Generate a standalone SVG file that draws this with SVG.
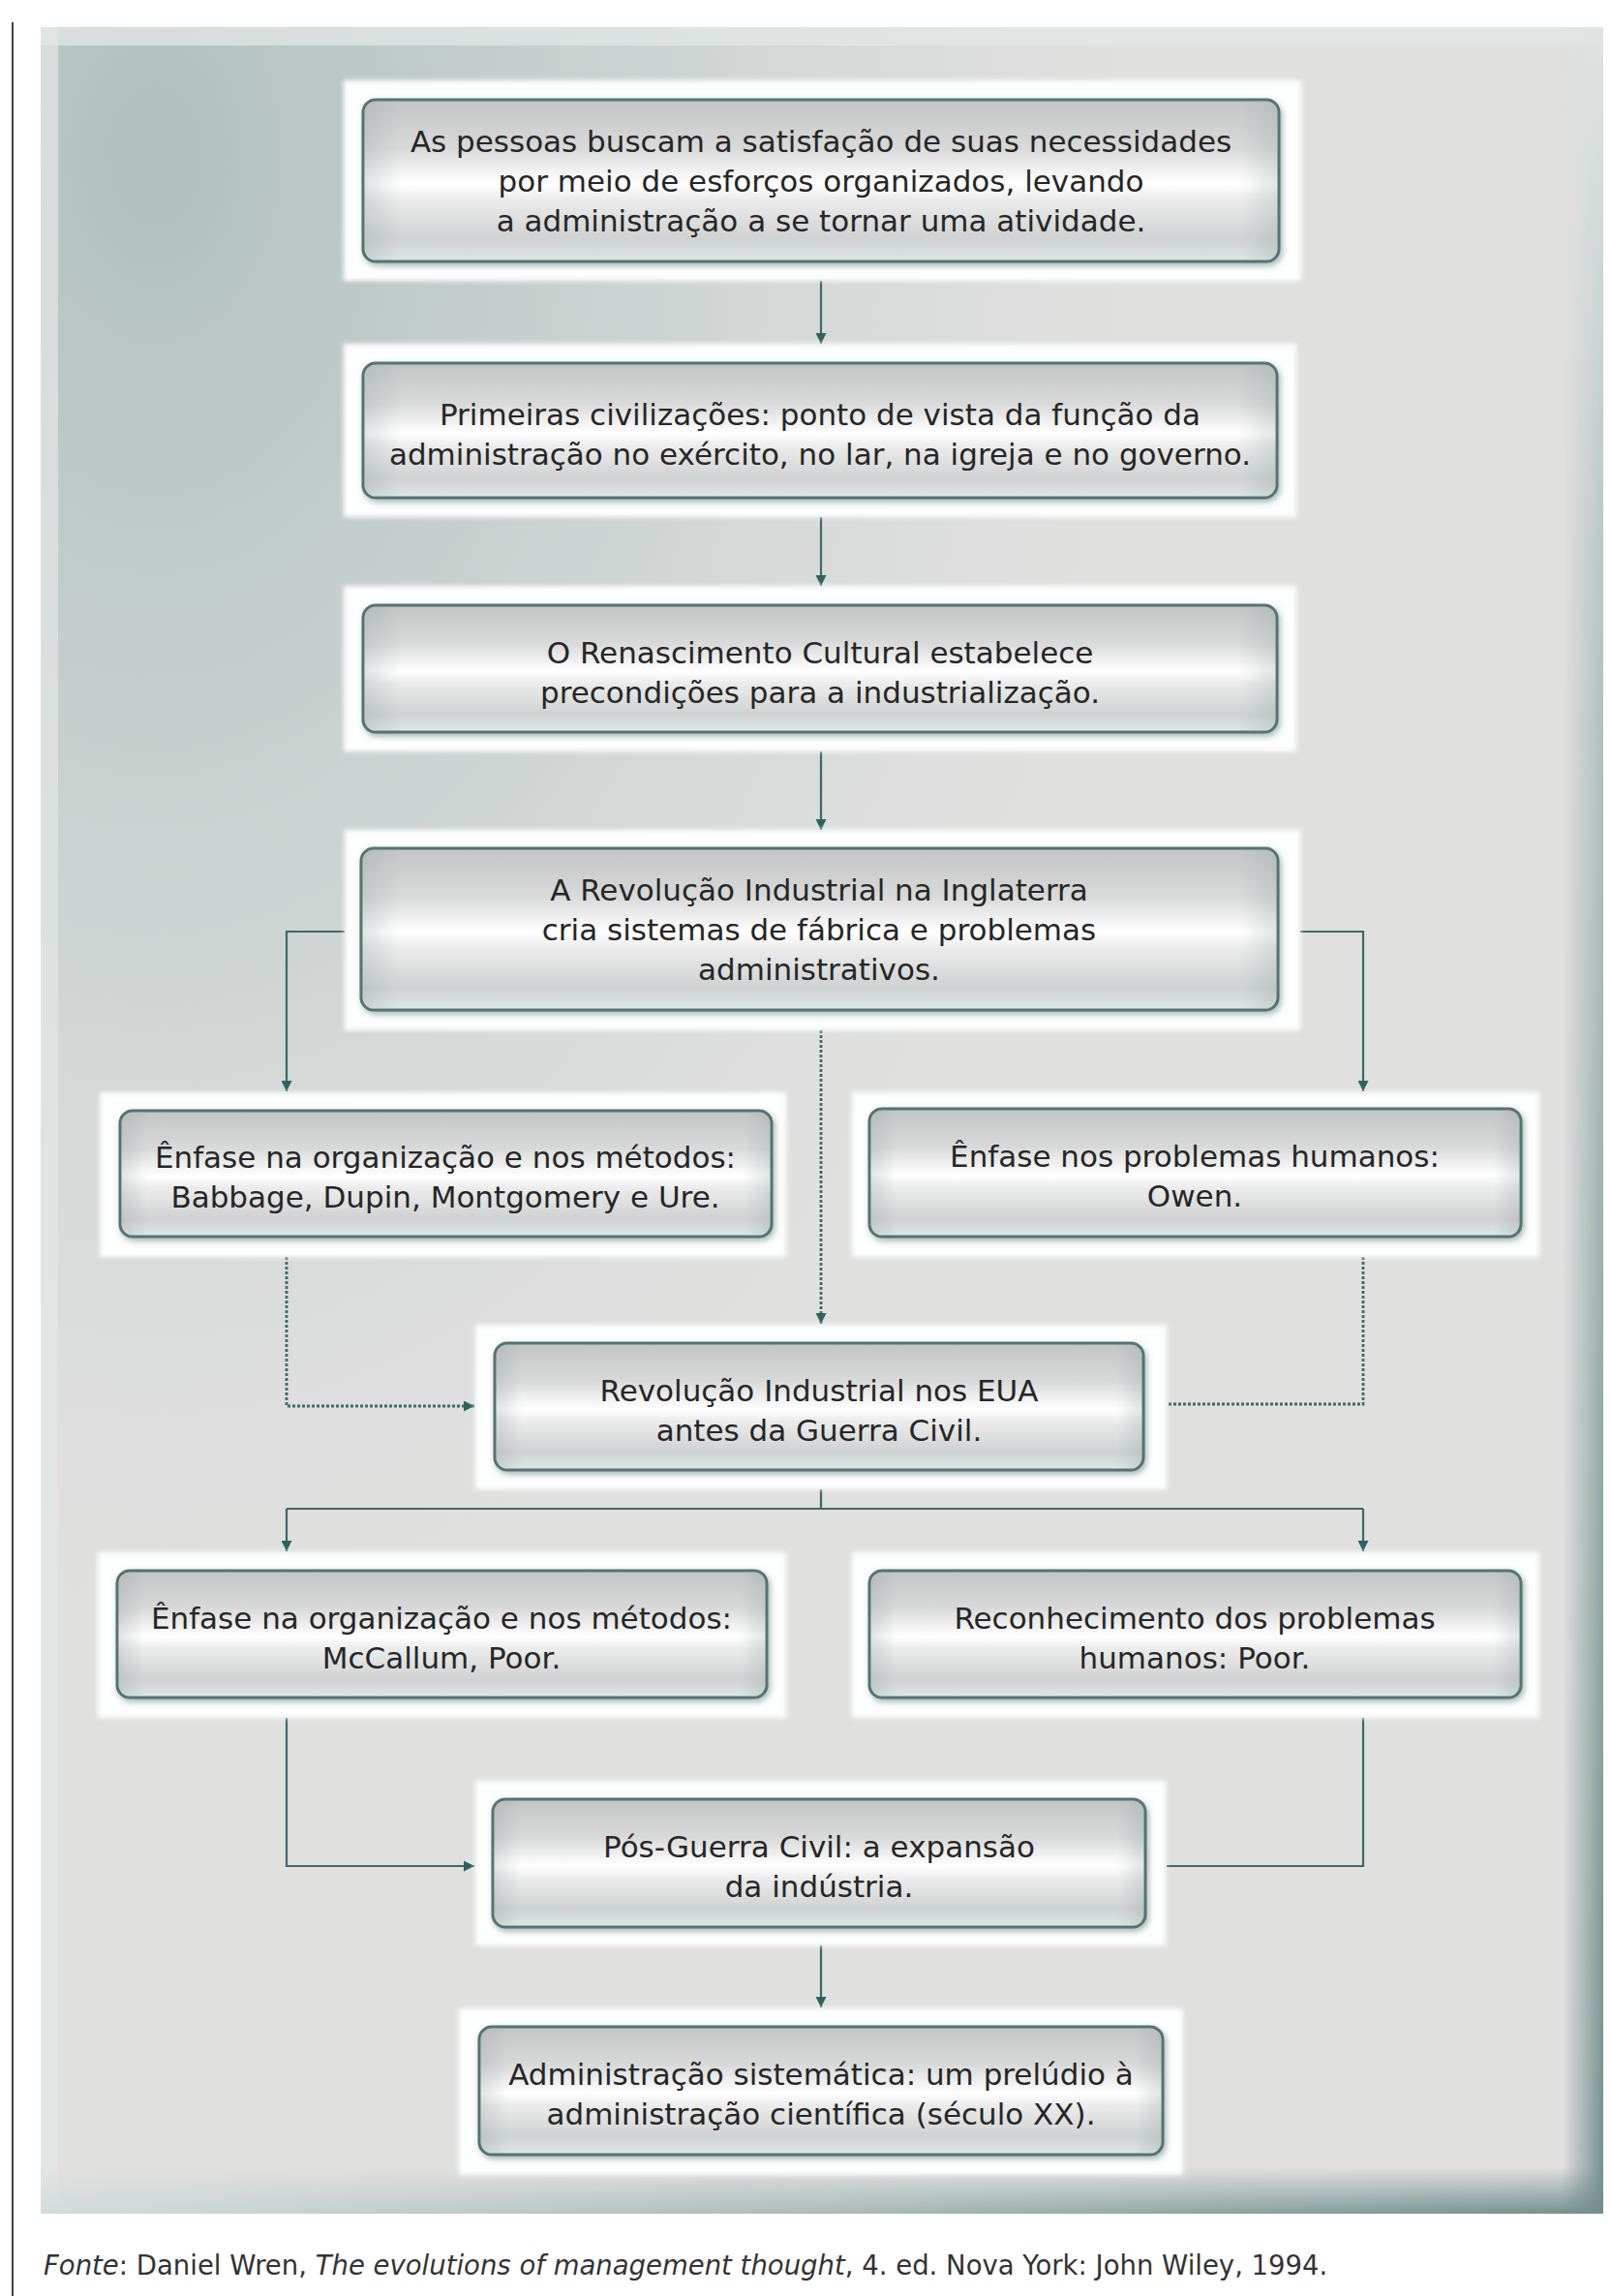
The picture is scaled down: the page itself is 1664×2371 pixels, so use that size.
<svg xmlns="http://www.w3.org/2000/svg" width="1664" height="2371" viewBox="0 0 1664 2371">
  <defs>
    <style>
      .halo { fill: #fdfefe; filter: url(#soft); }
      .box { fill: url(#boxFill); stroke: #557371; stroke-width: 3; filter: url(#drop); }
      .sheen { fill: url(#boxSide); }
      .lbl { font-family: "DejaVu Sans", "Liberation Sans", sans-serif; font-size: 31px; fill: #262626; text-anchor: middle; }
      .wire { fill: none; stroke: #3b6a67; stroke-width: 2.2; }
      .dots { fill: none; stroke: #3b6a67; stroke-width: 2.8; stroke-dasharray: 3 2; }
      .cap { font-family: "DejaVu Sans", "Liberation Sans", sans-serif; font-size: 27.5px; fill: #333; }
    </style>
    <linearGradient id="boxFill" x1="0" y1="0" x2="0" y2="1">
      <stop offset="0" stop-color="#c3c5c5"/>
      <stop offset="0.3" stop-color="#d8d9d9"/>
      <stop offset="0.45" stop-color="#f3f3f3"/>
      <stop offset="0.52" stop-color="#ffffff"/>
      <stop offset="0.62" stop-color="#ebebeb"/>
      <stop offset="0.86" stop-color="#cfd2d2"/>
      <stop offset="1" stop-color="#dfe7e7"/>
    </linearGradient>
    <linearGradient id="boxSide" x1="0" y1="0" x2="1" y2="0">
      <stop offset="0" stop-color="#8a9a99" stop-opacity="0.25"/>
      <stop offset="0.04" stop-color="#8a9a99" stop-opacity="0"/>
      <stop offset="0.96" stop-color="#8a9a99" stop-opacity="0"/>
      <stop offset="1" stop-color="#8a9a99" stop-opacity="0.25"/>
    </linearGradient>
    <filter id="soft" x="-5%" y="-10%" width="110%" height="120%">
      <feGaussianBlur stdDeviation="2.5"/>
    </filter>
    <filter id="drop" x="-5%" y="-10%" width="110%" height="125%">
      <feDropShadow dx="2" dy="3" stdDeviation="3" flood-color="#5d7c7a" flood-opacity="0.55"/>
    </filter>
    <marker id="tip" viewBox="0 0 10 10" refX="10" refY="5" markerWidth="11" markerHeight="11" markerUnits="userSpaceOnUse" orient="auto">
      <path d="M0,0 L10,5 L0,10 Z" fill="#2f625f"/>
    </marker>
    <!-- panel shading -->
    <radialGradient id="tlTint" gradientUnits="userSpaceOnUse" cx="160" cy="160" r="1000" gradientTransform="translate(160 160) scale(1 1.5) translate(-160 -160)">
      <stop offset="0" stop-color="#adbebc" stop-opacity="0.95"/>
      <stop offset="0.5" stop-color="#b8c5c3" stop-opacity="0.5"/>
      <stop offset="1" stop-color="#c8d0cf" stop-opacity="0"/>
    </radialGradient>
    <linearGradient id="bottomH" x1="0" y1="0" x2="1" y2="0">
      <stop offset="0" stop-color="#d3dbda"/>
      <stop offset="0.5" stop-color="#a9bbb9"/>
      <stop offset="1" stop-color="#728e8c"/>
    </linearGradient>
    <linearGradient id="fadeDown" x1="0" y1="0" x2="0" y2="1">
      <stop offset="0" stop-color="#000"/>
      <stop offset="1" stop-color="#fff"/>
    </linearGradient>
    <linearGradient id="rightV" x1="0" y1="0" x2="0" y2="1">
      <stop offset="0" stop-color="#dfe3e2"/>
      <stop offset="0.25" stop-color="#b6c5c3"/>
      <stop offset="1" stop-color="#738f8d"/>
    </linearGradient>
    <linearGradient id="fadeRight" x1="0" y1="0" x2="1" y2="0">
      <stop offset="0" stop-color="#000"/>
      <stop offset="1" stop-color="#fff"/>
    </linearGradient>
    <mask id="mBottom" maskUnits="userSpaceOnUse" x="42" y="2238" width="1614" height="48">
      <rect x="42" y="2238" width="1614" height="48" fill="url(#fadeDown)"/>
    </mask>
    <mask id="mRight" maskUnits="userSpaceOnUse" x="1614" y="28" width="42" height="2258">
      <rect x="1614" y="28" width="42" height="2258" fill="url(#fadeRight)"/>
    </mask>
  </defs>

  <rect width="1664" height="2371" fill="#ffffff"/>
  <line x1="13" y1="23" x2="13" y2="2371" stroke="#3a4646" stroke-width="2"/>

  <!-- background panel -->
  <g id="panel">
    <rect x="42" y="28" width="1614" height="2258" fill="#e0e0df"/>
    <rect x="42" y="28" width="1614" height="2258" fill="url(#tlTint)"/>
    <rect x="42" y="28" width="1614" height="19" fill="#e2e7e6" opacity="0.75"/>
    <rect x="42" y="28" width="18" height="2258" fill="#e2e7e6" opacity="0.7"/>
    <rect x="42" y="2238" width="1614" height="48" fill="url(#bottomH)" mask="url(#mBottom)"/>
    <rect x="1614" y="28" width="42" height="2258" fill="url(#rightV)" mask="url(#mRight)"/>
  </g>

  <!-- connectors -->
  <g id="connectors">
    <path class="wire" d="M848,290 V355" marker-end="url(#tip)"/>
    <path class="wire" d="M848,534 V605" marker-end="url(#tip)"/>
    <path class="wire" d="M848,776 V857" marker-end="url(#tip)"/>
    <path class="wire" d="M356,962 H296 V1127" marker-end="url(#tip)"/>
    <path class="wire" d="M1343,962 H1408 V1127" marker-end="url(#tip)"/>
    <path class="dots" d="M848,1064 V1367" marker-end="url(#tip)"/>
    <path class="dots" d="M296,1298 V1452 H490" marker-end="url(#tip)"/>
    <path class="dots" d="M1408,1298 V1450 H1205"/>
    <path class="wire" d="M848,1538 V1558 M296,1558 H1408"/>
    <path class="wire" d="M296,1558 V1602" marker-end="url(#tip)"/>
    <path class="wire" d="M1408,1558 V1602" marker-end="url(#tip)"/>
    <path class="wire" d="M296,1774 V1927 H490" marker-end="url(#tip)"/>
    <path class="wire" d="M1408,1774 V1927 H1205"/>
    <path class="wire" d="M848,2009 V2073" marker-end="url(#tip)"/>
  </g>

  <!-- nodes -->
  <g id="n1">
    <rect class="halo" x="355" y="83" width="989" height="207"/>
    <rect class="box" x="375" y="103" width="946" height="167" rx="13"/>
    <rect class="sheen" x="376.5" y="104.5" width="943" height="164" rx="12"/>
    <text class="lbl" x="848" y="156.5">As pessoas buscam a satisfação de suas necessidades</text>
    <text class="lbl" x="848" y="197.5">por meio de esforços organizados, levando</text>
    <text class="lbl" x="848" y="238.5">a administração a se tornar uma atividade.</text>
  </g>
  <g id="n2">
    <rect class="halo" x="355" y="355" width="984" height="179"/>
    <rect class="box" x="375" y="375" width="944" height="139" rx="13"/>
    <rect class="sheen" x="376.5" y="376.5" width="941" height="136" rx="12"/>
    <text class="lbl" x="847" y="438.5">Primeiras civilizações: ponto de vista da função da</text>
    <text class="lbl" x="847" y="479.5">administração no exército, no lar, na igreja e no governo.</text>
  </g>
  <g id="n3">
    <rect class="halo" x="355" y="605" width="984" height="171"/>
    <rect class="box" x="375" y="625" width="944" height="131" rx="13"/>
    <rect class="sheen" x="376.5" y="626.5" width="941" height="128" rx="12"/>
    <text class="lbl" x="847" y="684.5">O Renascimento Cultural estabelece</text>
    <text class="lbl" x="847" y="725.5">precondições para a industrialização.</text>
  </g>
  <g id="n4">
    <rect class="halo" x="356" y="857" width="987" height="207"/>
    <rect class="box" x="373" y="876" width="947" height="167" rx="13"/>
    <rect class="sheen" x="374.5" y="877.5" width="944" height="164" rx="12"/>
    <text class="lbl" x="846" y="929.5">A Revolução Industrial na Inglaterra</text>
    <text class="lbl" x="846" y="970.5">cria sistemas de fábrica e problemas</text>
    <text class="lbl" x="846" y="1011.5">administrativos.</text>
  </g>
  <g id="n5">
    <rect class="halo" x="103" y="1128" width="709" height="170"/>
    <rect class="box" x="124" y="1147" width="673" height="130" rx="13"/>
    <rect class="sheen" x="125.5" y="1148.5" width="670" height="127" rx="12"/>
    <text class="lbl" x="460" y="1206">Ênfase na organização e nos métodos:</text>
    <text class="lbl" x="460" y="1247">Babbage, Dupin, Montgomery e Ure.</text>
  </g>
  <g id="n6">
    <rect class="halo" x="880" y="1128" width="710" height="170"/>
    <rect class="box" x="898" y="1145" width="673" height="132" rx="13"/>
    <rect class="sheen" x="899.5" y="1146.5" width="670" height="129" rx="12"/>
    <text class="lbl" x="1234" y="1205">Ênfase nos problemas humanos:</text>
    <text class="lbl" x="1234" y="1246">Owen.</text>
  </g>
  <g id="n7">
    <rect class="halo" x="491" y="1368" width="714" height="170"/>
    <rect class="box" x="511" y="1387" width="670" height="131" rx="13"/>
    <rect class="sheen" x="512.5" y="1388.5" width="667" height="128" rx="12"/>
    <text class="lbl" x="846" y="1446.5">Revolução Industrial nos EUA</text>
    <text class="lbl" x="846" y="1487.5">antes da Guerra Civil.</text>
  </g>
  <g id="n8">
    <rect class="halo" x="101" y="1603" width="711" height="171"/>
    <rect class="box" x="121" y="1622" width="671" height="131" rx="13"/>
    <rect class="sheen" x="122.5" y="1623.5" width="668" height="128" rx="12"/>
    <text class="lbl" x="456" y="1681.5">Ênfase na organização e nos métodos:</text>
    <text class="lbl" x="456" y="1722.5">McCallum, Poor.</text>
  </g>
  <g id="n9">
    <rect class="halo" x="880" y="1603" width="710" height="171"/>
    <rect class="box" x="898" y="1622" width="673" height="131" rx="13"/>
    <rect class="sheen" x="899.5" y="1623.5" width="670" height="128" rx="12"/>
    <text class="lbl" x="1234" y="1681.5">Reconhecimento dos problemas</text>
    <text class="lbl" x="1234" y="1722.5">humanos: Poor.</text>
  </g>
  <g id="n10">
    <rect class="halo" x="491" y="1839" width="713" height="170"/>
    <rect class="box" x="509" y="1858" width="674" height="132" rx="13"/>
    <rect class="sheen" x="510.5" y="1859.5" width="671" height="129" rx="12"/>
    <text class="lbl" x="846" y="1918">Pós-Guerra Civil: a expansão</text>
    <text class="lbl" x="846" y="1959">da indústria.</text>
  </g>
  <g id="n11">
    <rect class="halo" x="474" y="2074" width="748" height="172"/>
    <rect class="box" x="495" y="2093" width="706" height="132" rx="13"/>
    <rect class="sheen" x="496.5" y="2094.5" width="703" height="129" rx="12"/>
    <text class="lbl" x="848" y="2153">Administração sistemática: um prelúdio à</text>
    <text class="lbl" x="848" y="2194">administração científica (século XX).</text>
  </g>

  <!-- source note -->
  <text class="cap" x="45" y="2349"><tspan font-style="italic">Fonte</tspan>: Daniel Wren, <tspan font-style="italic">The evolutions of management thought</tspan>, 4. ed. Nova York: John Wiley, 1994.</text>
</svg>
